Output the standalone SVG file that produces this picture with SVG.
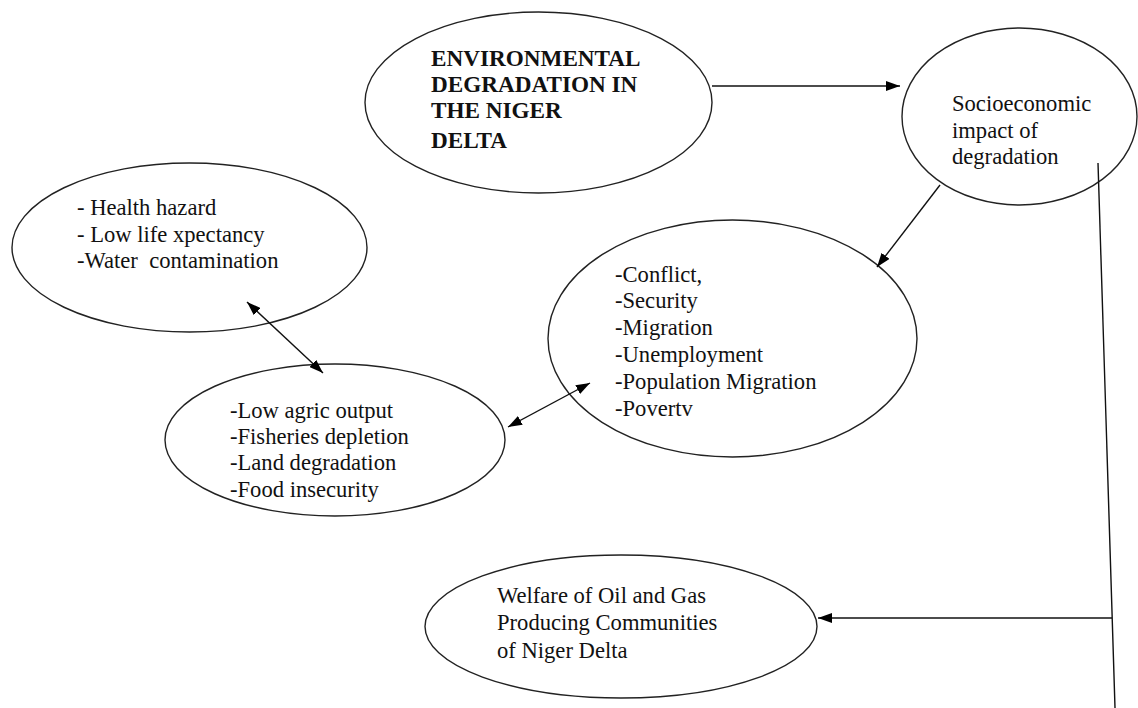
<svg xmlns="http://www.w3.org/2000/svg" width="1138" height="708" viewBox="0 0 1138 708">
<defs>
<marker id="ah" viewBox="0 0 14 10" refX="14" refY="5" markerWidth="14" markerHeight="10" markerUnits="userSpaceOnUse" orient="auto-start-reverse">
<path d="M0,0 L14,5 L0,10 z" fill="#000"/>
</marker>
<style>
.node ellipse{fill:#fff;stroke:#222;stroke-width:1.4}
.t{font-family:"Liberation Serif","Times New Roman",serif;font-size:22.6px;fill:#111}
.b{font-weight:bold;font-size:23.2px}
.c line{stroke:#111;stroke-width:1.4;fill:none}
</style>
</defs>
<rect width="1138" height="708" fill="#fff"/>
<g id="env" class="node">
<ellipse cx="538.5" cy="102.5" rx="173.5" ry="90.5"/>
<text class="t b" x="431" y="66">ENVIRONMENTAL</text>
<text class="t b" x="431" y="92">DEGRADATION IN</text>
<text class="t b" x="431" y="118">THE NIGER</text>
<text class="t b" x="431" y="148">DELTA</text>
</g>
<g id="socio" class="node">
<ellipse cx="1019.5" cy="116.5" rx="117.5" ry="88.5"/>
<text class="t" x="952" y="111">Socioeconomic</text>
<text class="t" x="952" y="138">impact of</text>
<text class="t" x="952" y="164">degradation</text>
</g>
<g id="health" class="node">
<ellipse cx="189.5" cy="247.5" rx="177.5" ry="84.5"/>
<text class="t" x="77" y="215">- Health hazard</text>
<text class="t" x="77" y="242">- Low life xpectancy</text>
<text class="t" x="77" y="268">-Water&#160; contamination</text>
</g>
<g id="conflict" class="node">
<ellipse cx="732.5" cy="338.5" rx="184.5" ry="118.5"/>
<text class="t" x="615" y="282">-Conflict,</text>
<text class="t" x="615" y="308">-Security</text>
<text class="t" x="615" y="335">-Migration</text>
<text class="t" x="615" y="362">-Unemployment</text>
<text class="t" x="615" y="389">-Population Migration</text>
<text class="t" x="615" y="416">-Povertv</text>
</g>
<g id="agric" class="node">
<ellipse cx="335" cy="440" rx="170" ry="76"/>
<text class="t" x="230" y="418">-Low agric output</text>
<text class="t" x="230" y="444">-Fisheries depletion</text>
<text class="t" x="230" y="470">-Land degradation</text>
<text class="t" x="230" y="497">-Food insecurity</text>
</g>
<g id="welfare" class="node">
<ellipse cx="621" cy="626.5" rx="196" ry="71.5"/>
<text class="t" x="497" y="603">Welfare of Oil and Gas</text>
<text class="t" x="497" y="630">Producing Communities</text>
<text class="t" x="497" y="658">of Niger Delta</text>
</g>
<g id="connectors" class="c">
<line x1="712" y1="86" x2="900" y2="86" marker-end="url(#ah)"/>
<line x1="940" y1="185" x2="877" y2="267" marker-end="url(#ah)"/>
<line x1="247" y1="302" x2="323" y2="373" marker-start="url(#ah)" marker-end="url(#ah)"/>
<line x1="590" y1="383" x2="508" y2="427" marker-start="url(#ah)" marker-end="url(#ah)"/>
<line x1="1098" y1="163" x2="1115" y2="708"/>
<line x1="1112" y1="618" x2="818" y2="618" marker-end="url(#ah)"/>
</g>
</svg>
